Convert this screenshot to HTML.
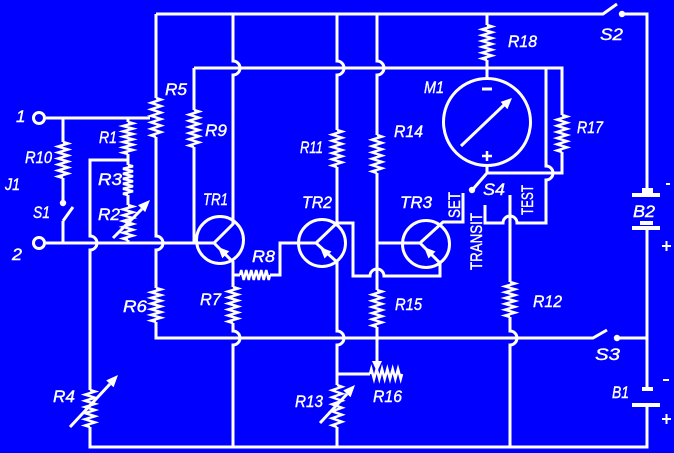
<!DOCTYPE html>
<html><head><meta charset="utf-8"><style>
html,body{margin:0;padding:0;background:#0000ff;}
svg{display:block}
text{font-family:"Liberation Sans",sans-serif;font-style:italic;fill:#fff;font-size:17px;stroke:#fff;stroke-width:0.4;}
text.up{font-style:normal;}
</style></head><body>
<svg width="674" height="453" viewBox="0 0 674 453" xmlns="http://www.w3.org/2000/svg">
<rect width="674" height="453" fill="#0000ff"/>
<defs>
<polyline id="rz" points="0,0 5,1.5 -5,4.5 5,7.5 -5,10.5 5,13.5 -5,16.5 5,19.5 -5,22.5 5,25.5 -5,28.5 5,31.5 -5,34.5 0,36" fill="none" stroke-width="2.5" vector-effect="non-scaling-stroke"/>
</defs>
<g stroke="#fff" stroke-width="3" fill="none" stroke-linejoin="miter">
<!-- resistors -->
<use href="#rz" transform="translate(63,142) scale(1,1)"/>
<use href="#rz" transform="translate(128,122) scale(1,0.889)"/>
<use href="#rz" transform="translate(128,165) scale(1,0.833)"/>
<use href="#rz" transform="translate(128,205) scale(1,0.972)"/>
<use href="#rz" transform="translate(156,98) scale(1,1.083)"/>
<use href="#rz" transform="translate(194,110) scale(1,1.028)"/>
<use href="#rz" transform="translate(156,288) scale(1,0.944)"/>
<use href="#rz" transform="translate(90,390) scale(1,1.028)"/>
<use href="#rz" transform="translate(233,287) scale(1,1)"/>
<use href="#rz" transform="translate(337,130) scale(1,1.028)"/>
<use href="#rz" transform="translate(377,135) scale(1,1.056)"/>
<use href="#rz" transform="translate(377,290) scale(1,1.028)"/>
<use href="#rz" transform="translate(337,385) scale(1,1.167)"/>
<use href="#rz" transform="translate(487,25) scale(1,0.972)"/>
<use href="#rz" transform="translate(562,115) scale(1,1.028)"/>
<use href="#rz" transform="translate(510,282) scale(1,0.972)"/>
<use href="#rz" transform="translate(240,275) rotate(-90) scale(1,0.833)"/>
<use href="#rz" transform="translate(370,374) rotate(-90) scale(1,0.889)"/>

<!-- wires -->
<path d="M156,14 H603 L617,4"/>
<path d="M622,14 H647 V190"/>
<path d="M156,14 V98"/>
<path d="M156,137 V236 A7,7 0 0 1 156,250 V288"/>
<path d="M156,322 V338 H593 L607,330"/>
<path d="M617,338 H647"/>
<path d="M647,229 V388"/>
<path d="M647,407 V447 H90 V427"/>
<path d="M46,118 H150"/>
<path d="M63,118 V142 M63,178 V203 M63,221 L73,207 M63,221 V243"/>
<path d="M128,118 V122 M128,154 V165 M128,195 V205 M128,240 V243"/>
<path d="M128,160 H90 V236 A7,7 0 0 1 90,250 V390"/>
<path d="M46,243 H214"/>
<path d="M194,68 H562 V115 M562,152 V173 H487 V166"/>
<path d="M194,68 V110 M194,147 V243"/>
<path d="M233,14 V61 A7,7 0 0 1 233,75 V224 L214,243 L233,262 V287"/>
<path d="M233,323 V331 A7,7 0 0 1 233,345 V447"/>
<path d="M233,275 H240 M270,275 H280 V243 H316"/>
<path d="M337,14 V61 A7,7 0 0 1 337,75 V130 M337,167 V223 L316,243 L337,262 V331 A7,7 0 0 1 337,345 V385 M337,427 V447"/>
<path d="M337,223 H353 V276 H370 A7,7 0 0 1 384,276 H440 V263 L420,243"/>
<path d="M337,374 H370"/>
<path d="M377,14 V61 A7,7 0 0 1 377,75 V135 M377,173 V290 M377,327 V362"/>
<path d="M377,243 H420 L443,222 H463 V193"/>
<path d="M487,14 V25 M487,60 V78"/>
<path d="M487,173 L474,188"/>
<path d="M546,68 V166 A7,7 0 0 1 546,180 V223 H517 A7,7 0 0 0 503,223 H485 V205"/>
<path d="M510,195 V282 M510,317 V331 A7,7 0 0 1 510,345 V447"/>

<!-- variable resistor arrows -->
<path d="M113,238 L142,209"/>
<path d="M70,427 L110,384"/>
<path d="M320,423 L347,394"/>
<path d="M461,146 L504,105"/>

<!-- circles -->
<circle cx="220" cy="240" r="23.5"/>
<circle cx="322" cy="243" r="23.5"/>
<circle cx="426" cy="244" r="23.5"/>
<circle cx="487" cy="122" r="43.5"/>
<circle cx="39" cy="118" r="5.5"/>
<circle cx="39" cy="243" r="5.5"/>

<!-- meter signs -->
<path d="M482,89 H492"/>
<path d="M482,156 H492 M487,151 V161" stroke-width="2.5"/>
<!-- battery signs -->
<path d="M666,184 H670" stroke-width="2"/>
<path d="M662,246 H671 M666.5,241 V251" stroke-width="2"/>
<path d="M663,380 H669" stroke-width="2"/>
<path d="M662,419 H671 M666.5,414 V424" stroke-width="2"/>
</g>

<g fill="#fff" stroke="none">
<!-- arrowheads -->
<polygon points="150,200 145.2,212.1 138,205.1"/>
<polygon points="118,375 113.6,387.2 106.2,380.4"/>
<polygon points="355,385 350.6,397.2 343.2,390.4"/>
<polygon points="512,98 507.4,109.2 500.6,101.9"/>
<polygon points="218,247 229.3,251.3 222.3,258.3"/>
<polygon points="320,247 331.5,251.5 324.5,258.5"/>
<polygon points="424,247 435.5,251.5 428.5,258.5"/>
<polygon points="377,372 372,361 382,361"/>
<!-- dots -->
<circle cx="622" cy="14" r="3.2"/>
<circle cx="617" cy="338" r="3.2"/>
<circle cx="63" cy="203" r="3.2"/>
<circle cx="472" cy="190" r="3.2"/>
<!-- battery plates -->
<rect x="642" y="188" width="11" height="5"/>
<rect x="632" y="193" width="28" height="4"/>
<rect x="640" y="221" width="13" height="4"/>
<rect x="632" y="226" width="28" height="4"/>
<rect x="642" y="387" width="11" height="4"/>
<rect x="632" y="403" width="28" height="4"/>
</g>

<!-- labels -->
<text x="16" y="122" font-size="15">1</text>
<text x="12" y="260" font-size="16" textLength="10" lengthAdjust="spacingAndGlyphs">2</text>
<text x="5" y="190" textLength="15" lengthAdjust="spacingAndGlyphs">J1</text>
<text x="25" y="163" textLength="27" lengthAdjust="spacingAndGlyphs">R10</text>
<text x="33" y="218" textLength="17" lengthAdjust="spacingAndGlyphs">S1</text>
<text x="99" y="143" textLength="18" lengthAdjust="spacingAndGlyphs">R1</text>
<text x="98" y="185" textLength="24" lengthAdjust="spacingAndGlyphs">R3</text>
<text x="98" y="220" textLength="22" lengthAdjust="spacingAndGlyphs">R2</text>
<text x="165" y="95" textLength="22" lengthAdjust="spacingAndGlyphs">R5</text>
<text x="205" y="136" textLength="22" lengthAdjust="spacingAndGlyphs">R9</text>
<text x="203" y="205" textLength="25" lengthAdjust="spacingAndGlyphs">TR1</text>
<text x="252" y="262" textLength="23" lengthAdjust="spacingAndGlyphs">R8</text>
<text x="200" y="305" textLength="21" lengthAdjust="spacingAndGlyphs">R7</text>
<text x="123" y="312" textLength="24" lengthAdjust="spacingAndGlyphs">R6</text>
<text x="53" y="402" textLength="22" lengthAdjust="spacingAndGlyphs">R4</text>
<text x="300" y="153" textLength="23" lengthAdjust="spacingAndGlyphs">R11</text>
<text x="394" y="137" textLength="29" lengthAdjust="spacingAndGlyphs">R14</text>
<text x="302" y="208" textLength="30" lengthAdjust="spacingAndGlyphs">TR2</text>
<text x="400" y="208" textLength="32" lengthAdjust="spacingAndGlyphs">TR3</text>
<text x="424" y="93" textLength="20" lengthAdjust="spacingAndGlyphs">M1</text>
<text x="395" y="310" textLength="27" lengthAdjust="spacingAndGlyphs">R15</text>
<text x="295" y="407" textLength="28" lengthAdjust="spacingAndGlyphs">R13</text>
<text x="373" y="402" textLength="29" lengthAdjust="spacingAndGlyphs">R16</text>
<text x="508" y="47" textLength="29" lengthAdjust="spacingAndGlyphs">R18</text>
<text x="577" y="133" textLength="26" lengthAdjust="spacingAndGlyphs">R17</text>
<text x="600" y="40" textLength="23" lengthAdjust="spacingAndGlyphs">S2</text>
<text x="483" y="195" textLength="22" lengthAdjust="spacingAndGlyphs">S4</text>
<text x="533" y="307" textLength="29" lengthAdjust="spacingAndGlyphs">R12</text>
<text x="633" y="217" textLength="22" lengthAdjust="spacingAndGlyphs">B2</text>
<text x="595" y="360" textLength="25" lengthAdjust="spacingAndGlyphs">S3</text>
<text x="612" y="398" textLength="17" lengthAdjust="spacingAndGlyphs">B1</text>
<text class="up" transform="translate(460,218) rotate(-90)" font-size="15" textLength="26" lengthAdjust="spacingAndGlyphs">SET</text>
<text class="up" transform="translate(482,270) rotate(-90)" font-size="17" textLength="57" lengthAdjust="spacingAndGlyphs">TRANSIT</text>
<text class="up" transform="translate(533,215) rotate(-90)" font-size="16" textLength="30" lengthAdjust="spacingAndGlyphs">TEST</text>
</svg>
</body></html>
